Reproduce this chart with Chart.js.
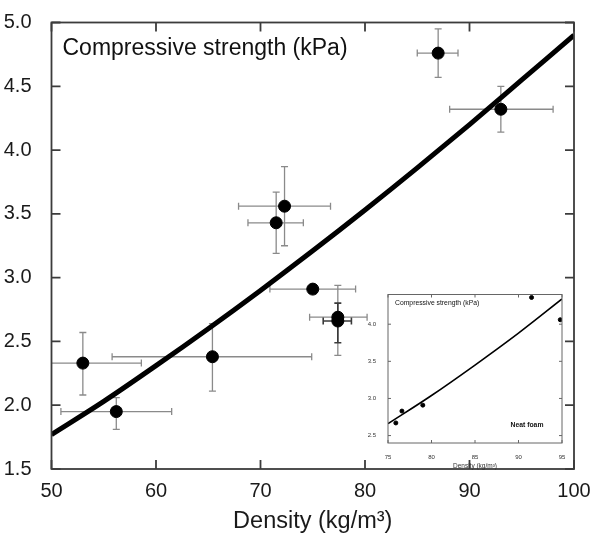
<!DOCTYPE html>
<html>
<head>
<meta charset="utf-8">
<script src="https://cdn.jsdelivr.net/npm/chart.js@4/dist/chart.umd.min.js"></script>
<style>
  body { margin: 0; background: #fff; }
  #wrap { position: relative; width: 594px; height: 536px; }
  #main { position: absolute; left: 0; top: 0; }
  #inset { position: absolute; left: 360px; top: 285px; }
</style>
</head>
<body>
<div id="wrap">
  <canvas id="main" width="594" height="536"></canvas>
  <canvas id="inset" width="214" height="185"></canvas>
</div>
<script>
"use strict";

// main plot: measured points with error bars
const density = [53.0, 56.2, 65.4, 72.3, 71.5, 75.0, 77.4, 77.4, 87.0, 93.0];
const strength = [2.33, 1.95, 2.38, 3.56, 3.43, 2.91, 2.69, 2.66, 4.76, 4.32];
const densityLow = [49.0, 50.9, 55.8, 67.9, 68.8, 70.9, 74.7, 76.0, 85.0, 88.1];
const densityHigh = [58.6, 61.5, 74.9, 76.7, 74.1, 79.1, 80.2, 78.7, 88.9, 98.0];
const strengthLow = [2.08, 1.81, 2.11, 3.25, 3.19, 2.91, 2.39, 2.49, 4.57, 4.14];
const strengthHigh = [2.57, 2.06, 2.64, 3.87, 3.67, 2.91, 2.94, 2.80, 4.95, 4.50];

// main fitted curve
const fitDensity = [50, 55, 60, 65, 70, 75, 80, 85, 90, 95, 100];
const fitStrength = [1.77, 2.03, 2.31, 2.60, 2.90, 3.21, 3.53, 3.86, 4.20, 4.55, 4.90];

// inset: neat foam
const neatDensity = [75.9, 76.6, 79.0, 91.5, 94.8];
const neatStrength = [2.67, 2.83, 2.91, 4.36, 4.06];
const neatFitDensity = [75, 80, 85, 90, 95];
const neatFitStrength = [2.66, 3.04, 3.45, 3.88, 4.34];

const mainTicksX = [50, 60, 70, 80, 90, 100];
const mainTicksY = [1.5, 2.0, 2.5, 3.0, 3.5, 4.0, 4.5, 5.0];
const insetTicksX = [75, 80, 85, 90, 95];
const insetTicksY = [2.5, 3.0, 3.5, 4.0];

Chart.defaults.font.family = "'Liberation Sans', Arial, sans-serif";
Chart.defaults.color = "#1a1a1a";

const toPoints = (xs, ys) => xs.map((x, i) => ({ x: x, y: ys[i] }));

// box round the plot with ticks pointing inwards on all four sides
const frameTicks = {
   id: "frameTicks",
   afterDraw(chart, args, opts) {
      const { ctx, chartArea: a } = chart;
      const sx = chart.scales.x;
      const sy = chart.scales.y;
      ctx.save();
      ctx.strokeStyle = opts.color;
      ctx.lineWidth = opts.width;
      ctx.strokeRect(a.left, a.top, a.right - a.left, a.bottom - a.top);
      ctx.beginPath();
      sx.ticks.forEach((t) => {
         const px = sx.getPixelForValue(t.value);
         ctx.moveTo(px, a.bottom);
         ctx.lineTo(px, a.bottom - opts.len);
         ctx.moveTo(px, a.top);
         ctx.lineTo(px, a.top + opts.len);
      });
      sy.ticks.forEach((t) => {
         const py = sy.getPixelForValue(t.value);
         ctx.moveTo(a.left, py);
         ctx.lineTo(a.left + opts.len, py);
         ctx.moveTo(a.right, py);
         ctx.lineTo(a.right - opts.len, py);
      });
      ctx.stroke();
      ctx.restore();
   },
};

// free text inside the plot area
const notes = {
   id: "notes",
   afterDraw(chart, args, opts) {
      const { ctx, chartArea: a } = chart;
      ctx.save();
      opts.items.forEach((n) => {
         ctx.font = n.font;
         ctx.fillStyle = "#111";
         ctx.textAlign = n.align || "left";
         ctx.textBaseline = "middle";
         ctx.fillText(n.text, a.left + n.dx, a.top + n.dy);
      });
      ctx.restore();
   },
};

// horizontal and vertical error bars with caps
const errorBars = {
   id: "errorBars",
   beforeDatasetsDraw(chart) {
      const { ctx, chartArea: a } = chart;
      const sx = chart.scales.x;
      const sy = chart.scales.y;
      const cap = 3.5;
      ctx.save();
      ctx.beginPath();
      ctx.rect(a.left, a.top, a.right - a.left, a.bottom - a.top);
      ctx.clip();
      density.forEach((d, i) => {
         const px = sx.getPixelForValue(d);
         const py = sy.getPixelForValue(strength[i]);
         const x0 = sx.getPixelForValue(densityLow[i]);
         const x1 = sx.getPixelForValue(densityHigh[i]);
         const y0 = sy.getPixelForValue(strengthLow[i]);
         const y1 = sy.getPixelForValue(strengthHigh[i]);
         ctx.strokeStyle = i === 7 ? "#3a3a3a" : "#8a8a8a";
         ctx.lineWidth = i === 7 ? 1.6 : 1.3;
         ctx.beginPath();
         ctx.moveTo(x0, py); ctx.lineTo(x1, py);
         ctx.moveTo(x0, py - cap); ctx.lineTo(x0, py + cap);
         ctx.moveTo(x1, py - cap); ctx.lineTo(x1, py + cap);
         if (strengthLow[i] !== strengthHigh[i]) {
            ctx.moveTo(px, y0); ctx.lineTo(px, y1);
            ctx.moveTo(px - cap, y0); ctx.lineTo(px + cap, y0);
            ctx.moveTo(px - cap, y1); ctx.lineTo(px + cap, y1);
         }
         ctx.stroke();
      });
      ctx.restore();
   },
};

const mainChart = new Chart(document.getElementById("main"), {
   type: "scatter",
   data: {
      datasets: [
         {
            data: toPoints(fitDensity, fitStrength),
            showLine: true,
            borderColor: "#000",
            borderWidth: 5,
            pointRadius: 0,
            cubicInterpolationMode: "monotone",
            order: 2,
         },
         {
            data: toPoints(density, strength),
            backgroundColor: "#000",
            borderColor: "#000",
            pointRadius: 6,
            order: 1,
         },
      ],
   },
   options: {
      responsive: false,
      animation: false,
      devicePixelRatio: 1,
      layout: { padding: { top: 22.5, right: 20, left: 0, bottom: 0 } },
      plugins: {
         legend: { display: false },
         tooltip: { enabled: false },
         frameTicks: { color: "#3c3c3c", width: 1.8, len: 9 },
         notes: {
            items: [
               { text: "Compressive strength (kPa)", dx: 11, dy: 26, font: "23px 'Liberation Sans', Arial, sans-serif" },
            ],
         },
      },
      scales: {
         x: {
            type: "linear",
            min: 50,
            max: 100,
            afterFit: (s) => { s.height = 67; s.paddingRight = 0; s.paddingLeft = 0; },
            afterBuildTicks: (s) => { s.ticks = mainTicksX.map((v) => ({ value: v })); },
            grid: { display: false },
            border: { display: false },
            ticks: { font: { size: 20 }, padding: 2, color: "#1a1a1a" },
            title: {
               display: true,
               text: "Density (kg/m³)",
               font: { size: 23.5 },
               color: "#1a1a1a",
               padding: { top: 1, bottom: 0 },
            },
         },
         y: {
            type: "linear",
            min: 1.5,
            max: 5.0,
            afterFit: (s) => { s.width = 51.5; s.paddingTop = 0; s.paddingBottom = 0; },
            afterBuildTicks: (s) => { s.ticks = mainTicksY.map((v) => ({ value: v })); },
            grid: { display: false },
            border: { display: false },
            ticks: { font: { size: 20 }, padding: 12, color: "#1a1a1a", callback: (v) => v.toFixed(1) },
         },
      },
   },
   plugins: [errorBars, frameTicks, notes],
});

const insetChart = new Chart(document.getElementById("inset"), {
   type: "scatter",
   data: {
      datasets: [
         {
            data: toPoints(neatFitDensity, neatFitStrength),
            showLine: true,
            borderColor: "#000",
            borderWidth: 1.6,
            pointRadius: 0,
            cubicInterpolationMode: "monotone",
         },
         {
            data: toPoints(neatDensity, neatStrength),
            backgroundColor: "#000",
            borderColor: "#000",
            pointRadius: 2,
         },
      ],
   },
   options: {
      responsive: false,
      animation: false,
      devicePixelRatio: 1,
      layout: { padding: { top: 9.5, right: 12, left: 0, bottom: 0 } },
      plugins: {
         legend: { display: false },
         tooltip: { enabled: false },
         frameTicks: { color: "#666", width: 1, len: 3 },
         notes: {
            items: [
               { text: "Compressive strength (kPa)", dx: 7, dy: 8.5, font: "6.8px 'Liberation Sans', Arial, sans-serif" },
               { text: "Neat foam", dx: 139, dy: 131, align: "center", font: "bold 6.8px 'Liberation Sans', Arial, sans-serif" },
            ],
         },
      },
      scales: {
         x: {
            type: "linear",
            min: 75,
            max: 95,
            afterFit: (s) => { s.height = 27; s.paddingRight = 0; s.paddingLeft = 0; },
            afterBuildTicks: (s) => { s.ticks = insetTicksX.map((v) => ({ value: v })); },
            grid: { display: false },
            border: { display: false },
            ticks: { font: { size: 6 }, padding: 3, color: "#333" },
            title: {
               display: true,
               text: "Density (kg/m³)",
               font: { size: 6.5 },
               color: "#333",
               padding: { top: 3.5, bottom: 0 },
            },
         },
         y: {
            type: "linear",
            min: 2.4,
            max: 4.4,
            afterFit: (s) => { s.width = 28; s.paddingTop = 0; s.paddingBottom = 0; },
            afterBuildTicks: (s) => { s.ticks = insetTicksY.map((v) => ({ value: v })); },
            grid: { display: false },
            border: { display: false },
            ticks: { font: { size: 6 }, padding: 4, color: "#333", callback: (v) => v.toFixed(1) },
         },
      },
   },
   plugins: [frameTicks, notes],
});
</script>
</body>
</html>
